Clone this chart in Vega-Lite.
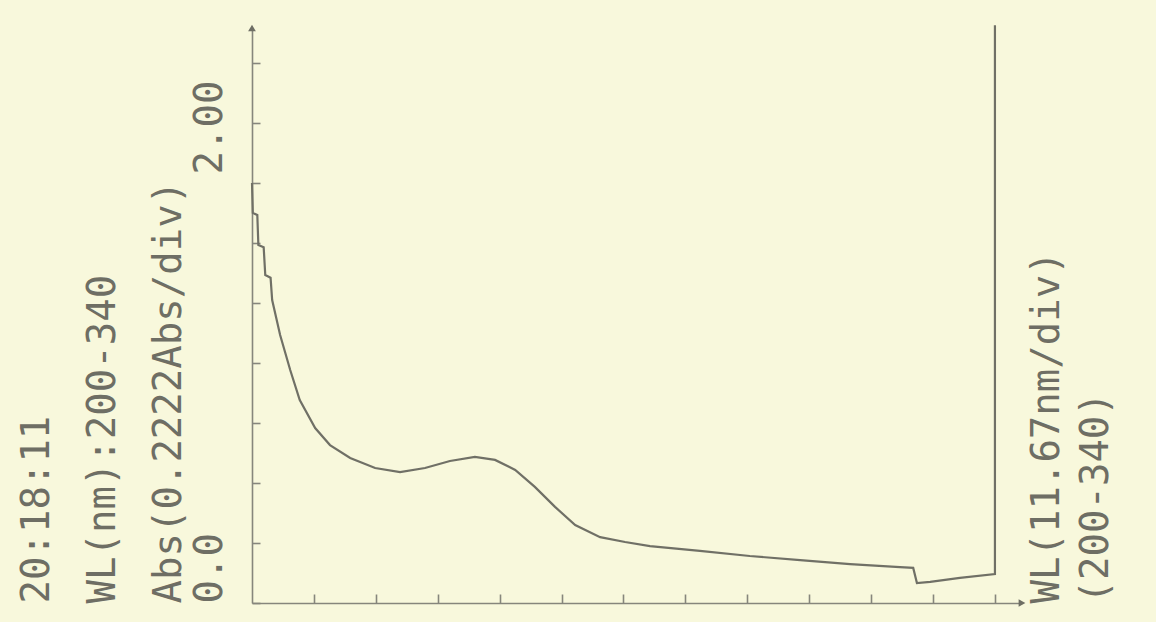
{
  "$schema": "https://vega.github.io/schema/vega-lite/v6.json",
  "width": 770,
  "height": 575,
  "autosize": {"type": "none"},
  "padding": {"left": 252, "top": 28, "right": 134, "bottom": 19},
  "background": "#f8f8dc",
  "config": {
    "view": {"stroke": null},
    "font": "DejaVu Sans Mono",
    "axis": {"grid": false, "domainColor": "#86867c", "domainWidth": 1.6, "tickColor": "#86867c", "tickWidth": 1.6}
  },
  "datasets": {
    "spectrum": [
      {"seq": 1, "wl": 200.0, "abs": 1.556},
      {"seq": 2, "wl": 200.15, "abs": 1.445},
      {"seq": 3, "wl": 201.0, "abs": 1.437},
      {"seq": 4, "wl": 201.2, "abs": 1.326},
      {"seq": 5, "wl": 202.2, "abs": 1.318},
      {"seq": 6, "wl": 202.5, "abs": 1.215},
      {"seq": 7, "wl": 203.5, "abs": 1.205},
      {"seq": 8, "wl": 203.8, "abs": 1.122},
      {"seq": 9, "wl": 205.3, "abs": 0.993},
      {"seq": 10, "wl": 207.2, "abs": 0.863},
      {"seq": 11, "wl": 209.0, "abs": 0.752},
      {"seq": 12, "wl": 211.9, "abs": 0.648},
      {"seq": 13, "wl": 214.7, "abs": 0.585},
      {"seq": 14, "wl": 218.5, "abs": 0.537},
      {"seq": 15, "wl": 223.2, "abs": 0.500},
      {"seq": 16, "wl": 227.9, "abs": 0.485},
      {"seq": 17, "wl": 232.6, "abs": 0.500},
      {"seq": 18, "wl": 237.3, "abs": 0.526},
      {"seq": 19, "wl": 242.0, "abs": 0.541},
      {"seq": 20, "wl": 245.8, "abs": 0.530},
      {"seq": 21, "wl": 249.6, "abs": 0.493},
      {"seq": 22, "wl": 253.3, "abs": 0.430},
      {"seq": 23, "wl": 257.1, "abs": 0.356},
      {"seq": 24, "wl": 260.9, "abs": 0.289},
      {"seq": 25, "wl": 265.6, "abs": 0.244},
      {"seq": 26, "wl": 270.3, "abs": 0.226},
      {"seq": 27, "wl": 275.0, "abs": 0.211},
      {"seq": 28, "wl": 284.4, "abs": 0.193},
      {"seq": 29, "wl": 293.8, "abs": 0.174},
      {"seq": 30, "wl": 303.3, "abs": 0.159},
      {"seq": 31, "wl": 312.7, "abs": 0.144},
      {"seq": 32, "wl": 322.1, "abs": 0.133},
      {"seq": 33, "wl": 324.6, "abs": 0.130},
      {"seq": 34, "wl": 325.3, "abs": 0.074},
      {"seq": 35, "wl": 327.8, "abs": 0.078},
      {"seq": 36, "wl": 333.4, "abs": 0.093},
      {"seq": 37, "wl": 340.0, "abs": 0.107},
      {"seq": 38, "wl": 340.0, "abs": 2.140}
    ],
    "arrows": [
      {"wl": 200.0, "abs": 2.13, "dir": "up"},
      {"wl": 345.1, "abs": 0.0, "dir": "right"}
    ]
  },
  "layer": [
    {
      "data": {"name": "spectrum"},
      "mark": {"type": "line", "color": "#707066", "strokeWidth": 2.2, "clip": false},
      "encoding": {
        "x": {
          "field": "wl", "type": "quantitative",
          "scale": {"domain": [200, 345.1], "nice": false, "zero": false},
          "axis": {
            "orient": "bottom",
            "values": [211.667, 223.333, 235, 246.667, 258.333, 270, 281.667, 293.333, 305, 316.667, 328.333, 340],
            "labels": false, "title": null, "tickSize": -9
          }
        },
        "y": {
          "field": "abs", "type": "quantitative",
          "scale": {"domain": [0, 2.13], "nice": false},
          "axis": {
            "orient": "left",
            "values": [0, 0.2222, 0.4444, 0.6667, 0.8889, 1.1111, 1.3333, 1.5556, 1.7778, 2.0],
            "tickSize": -8,
            "labelExpr": "datum.value == 0 ? '0.0' : (datum.value == 2 ? '2.00' : '')",
            "labelAngle": 270,
            "labelAlign": {"condition": {"test": "datum.value == 0", "value": "left"}, "value": "right"},
            "labelOffset": {"condition": {"test": "datum.value == 2", "value": 17}, "value": 0},
            "labelBaseline": "bottom",
            "labelPadding": 31,
            "labelFontSize": 39,
            "labelColor": "#6e6e64",
            "labelOverlap": false,
            "labelBound": false,
            "labelFlush": false,
            "title": ["20:18:11", "WL(nm):200-340", "Abs(0.2222Abs/div)"],
            "titleAngle": 270,
            "titleAnchor": "start",
            "titleAlign": "left",
            "titleBaseline": "bottom",
            "titleFontSize": 39,
            "titleFontWeight": "normal",
            "titleLineHeight": 66,
            "titleColor": "#6e6e64",
            "titlePadding": 2
          }
        },
        "order": {"field": "seq", "type": "quantitative"}
      }
    },
    {
      "data": {"name": "arrows"},
      "mark": {"type": "point", "filled": true, "opacity": 1, "color": "#6e6e64", "size": 60, "clip": false},
      "encoding": {
        "x": {
          "field": "wl", "type": "quantitative",
          "axis": {
            "orient": "bottom",
            "values": [211.667, 223.333, 235, 246.667, 258.333, 270, 281.667, 293.333, 305, 316.667, 328.333, 340],
            "labels": false, "title": null, "tickSize": -9
          }
        },
        "y": {
          "field": "abs", "type": "quantitative",
          "axis": {
            "orient": "right",
            "domain": false, "ticks": false, "labels": false,
            "title": ["WL(11.67nm/div)", "(200-340)"],
            "titleAngle": 270,
            "titleAnchor": "start",
            "titleAlign": "left",
            "titleBaseline": "top",
            "titleFontSize": 39,
            "titleFontWeight": "normal",
            "titleLineHeight": 49,
            "titleColor": "#6e6e64",
            "titlePadding": -44
          }
        },
        "shape": {
          "field": "dir", "type": "nominal",
          "scale": {"domain": ["up", "right"], "range": ["triangle-up", "triangle-right"]},
          "legend": null
        }
      }
    }
  ],
  "resolve": {"axis": {"y": "independent"}}
}
